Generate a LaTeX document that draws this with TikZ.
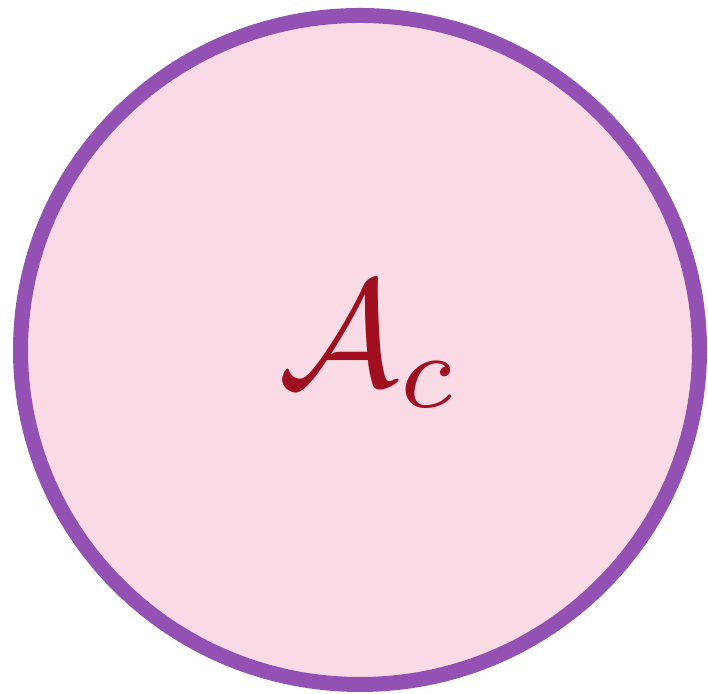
\documentclass[tikz,border=0pt]{standalone}
\usepackage{amsmath,amssymb}
\usepackage{tikz}
\usetikzlibrary{shapes.geometric}
\definecolor{setpurple}{HTML}{9351B4}
\definecolor{setpink}{HTML}{FADAE5}
\definecolor{setred}{HTML}{A00F20}

\begin{document}
\begin{tikzpicture}[x=1cm,y=1cm,
  setregion/.style={ellipse,draw=setpurple,fill=setpink,line width=0.15cm,
    minimum width=6.79cm,minimum height=6.69cm,inner sep=0pt},
  setlabel/.style={text=setred,scale=4.3}]
  \useasboundingbox (0,0) rectangle (7.08,6.94);
  \node[setregion] (ac) at (3.60,3.44) {};
  \node[setlabel] (lab) at (3.70,3.49) {$\mathcal{A}_c$};
\end{tikzpicture}
\end{document}
